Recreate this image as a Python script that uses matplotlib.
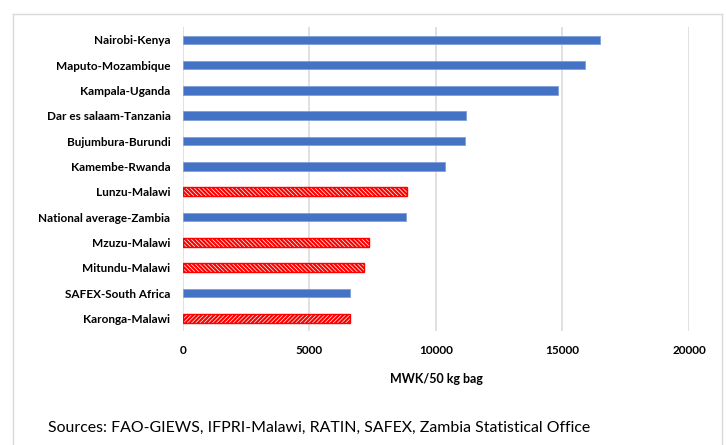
import matplotlib
matplotlib.use("Agg")
import matplotlib.pyplot as plt
from matplotlib.lines import Line2D

plt.rcParams['font.family'] = ['Lato', 'DejaVu Sans']
plt.rcParams['hatch.linewidth'] = 1.6

# markets, top to bottom as shown
markets = ['Nairobi-Kenya', 'Maputo-Mozambique', 'Kampala-Uganda',
           'Dar es salaam-Tanzania', 'Bujumbura-Burundi', 'Kamembe-Rwanda',
           'Lunzu-Malawi', 'National average-Zambia', 'Mzuzu-Malawi',
           'Mitundu-Malawi', 'SAFEX-South Africa', 'Karonga-Malawi']
prices = [16470, 15875, 14835, 11190, 11160, 10355,
          8860, 8820, 7355, 7170, 6590, 6590]
is_malawi = [False, False, False, False, False, False,
             True, False, True, True, False, True]
xticks = [0, 5000, 10000, 15000, 20000]

blue = '#4472C4'
red = '#FF0000'

fig = plt.figure(figsize=(7.26, 4.45), dpi=100)
ax = fig.add_axes([0.252, 0.256, 0.697, 0.683])

n = len(markets)
ypos = list(range(n - 1, -1, -1))
for y, v, m, name in zip(ypos, prices, is_malawi, markets):
    if m:
        hatch = '////////' if name == 'Karonga-Malawi' else '\\\\\\\\\\\\\\\\'
        ax.barh(y, v, height=0.34, color='white', edgecolor=red,
                hatch=hatch, linewidth=1.0, zorder=3)
    else:
        ax.barh(y, v, height=0.34, color=blue, edgecolor='#7F9FD8',
                linewidth=0.6, zorder=3)

ax.set_xlim(0, 20000)
ax.set_ylim(-0.5, n - 0.5)
ax.set_xticks(xticks)
ax.set_xticklabels([str(t) for t in xticks], fontweight='bold', fontsize=8.5)
ax.set_yticks(ypos)
ax.set_yticklabels(markets, fontweight='bold', fontsize=8.5)
ax.tick_params(axis='both', length=0, colors='black')
ax.tick_params(axis='y', pad=9)
ax.tick_params(axis='x', pad=10)
ax.grid(axis='x', color='#D9D9D9', linewidth=1.1, zorder=0)
for s in ax.spines.values():
    s.set_visible(False)

ax.set_xlabel('MWK/50 kg bag', fontweight='bold', fontsize=9, labelpad=12)

fig.text(48 / 726, 1 - 428 / 445, 'Sources: FAO-GIEWS, IFPRI-Malawi, RATIN, SAFEX, Zambia Statistical Office',
         fontsize=11.4, va='center', ha='left')

# light frame around the chart area
frame = '#D9D9D9'
x0, x1 = 13 / 726, 722 / 726
y0, y1 = 0.0, 1 - 14 / 445
fig.add_artist(Line2D([x0, x0], [y0, y1], color=frame, lw=1.0, transform=fig.transFigure))
fig.add_artist(Line2D([x1, x1], [y0, y1], color=frame, lw=1.0, transform=fig.transFigure))
fig.add_artist(Line2D([x0, x1], [y1, y1], color=frame, lw=1.0, transform=fig.transFigure))

fig.savefig('out.png', dpi=100)
